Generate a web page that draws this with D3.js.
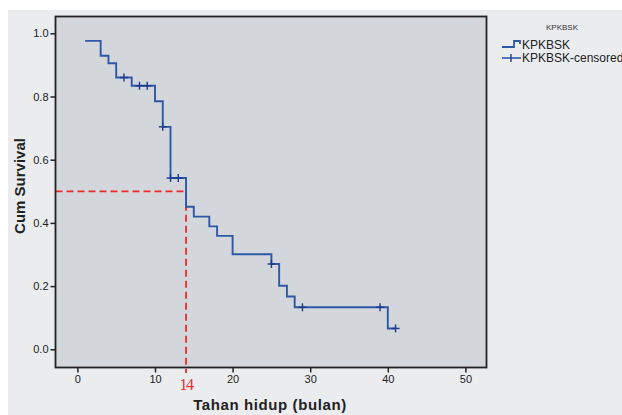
<!DOCTYPE html>
<html>
<head>
<meta charset="utf-8">
<script src="https://cdn.jsdelivr.net/npm/d3@7"></script>
<style>
  body { margin: 0; background: #fff; }
  svg { display: block; font-family: "Liberation Sans", Arial, sans-serif; }
</style>
</head>
<body>
<svg id="chart" width="622" height="415"></svg>
<script>
// KM steps: time of each drop and survival after it
const stepTimes = [1, 3, 4, 5, 7, 10, 11, 12, 14, 15, 17, 18, 20, 25, 26, 27, 28, 40]
const stepSurv = [0.976, 0.929, 0.905, 0.860, 0.834, 0.785, 0.704, 0.542, 0.451, 0.420, 0.389, 0.359, 0.301, 0.270, 0.201, 0.167, 0.133, 0.066]
const lastTime = 41
const censoredTimes = [6, 8, 9, 11, 12, 13, 25, 29, 39, 41]
const xTicks = [0, 10, 20, 30, 40, 50]
const yTicks = [0, 0.2, 0.4, 0.6, 0.8, 1.0]
const medianTime = 14
const medianSurv = 0.5

let svg = d3.select('#chart')

let plot = {left: 55.5, top: 16.5, right: 486.5, bottom: 367.5}

let x = d3.scaleLinear().domain([0, 50]).range([77.4, 465.4])
let y = d3.scaleLinear().domain([0, 1]).range([349.3, 33.3])

// outer panel
svg.append('rect').attr('x', 8).attr('y', 10).attr('width', 614).attr('height', 405).attr('fill', '#ebecee')

// plot area
svg.append('rect')
    .attr('x', plot.left).attr('y', plot.top)
    .attr('width', plot.right - plot.left).attr('height', plot.bottom - plot.top)
    .attr('fill', '#d3d6db')

let survAt = t => {
    let s = stepSurv[0]
    for(let i = 0; i < stepTimes.length; i++){
        if(stepTimes[i] <= t) s = stepSurv[i]
    }
    return s
}

let pts = stepTimes.map((t, i) => ({t: t, s: stepSurv[i]}))
pts.push({t: lastTime, s: stepSurv[stepSurv.length - 1]})

// median reference lines
svg.append('path')
    .attr('d', 'M' + plot.left + ',' + y(medianSurv) + 'H' + x(medianTime) + 'V373')
    .attr('fill', 'none')
    .attr('stroke', '#ee2a2a')
    .attr('stroke-width', 1.8)
    .attr('stroke-dasharray', '7,4')

svg.append('path')
    .datum(pts)
    .attr('d', d3.line().x(d => x(d.t)).y(d => y(d.s)).curve(d3.curveStepAfter))
    .attr('fill', 'none')
    .attr('stroke', '#2d58a8')
    .attr('stroke-width', 1.9)

let cens = svg.append('g').attr('stroke', '#1e3a8c').attr('stroke-width', 1.4)
censoredTimes.forEach(t => {
    let cx = x(t), cy = y(survAt(t))
    cens.append('line').attr('x1', cx - 4).attr('x2', cx + 4).attr('y1', cy).attr('y2', cy)
    cens.append('line').attr('x1', cx).attr('x2', cx).attr('y1', cy - 4).attr('y2', cy + 4)
})

// frame
svg.append('rect')
    .attr('x', plot.left).attr('y', plot.top)
    .attr('width', plot.right - plot.left).attr('height', plot.bottom - plot.top)
    .attr('fill', 'none')
    .attr('stroke', '#222')
    .attr('stroke-width', 1.8)

// axes
let xAxis = svg.append('g')
    .attr('transform', 'translate(0,' + plot.bottom + ')')
    .call(d3.axisBottom(x).tickValues(xTicks).tickSize(5).tickPadding(3).tickFormat(d3.format('d')))
xAxis.select('.domain').remove()
xAxis.selectAll('line').attr('stroke', '#222').attr('stroke-width', 1.5)
xAxis.selectAll('text').attr('font-size', 11).attr('fill', '#222')

let yAxis = svg.append('g')
    .attr('transform', 'translate(' + plot.left + ',0)')
    .call(d3.axisLeft(y).tickValues(yTicks).tickSize(5).tickPadding(2).tickFormat(d3.format('.1f')))
yAxis.select('.domain').remove()
yAxis.selectAll('line').attr('stroke', '#222').attr('stroke-width', 1.5)
yAxis.selectAll('text').attr('font-size', 11).attr('fill', '#222')

// median label
svg.append('text')
    .attr('x', x(medianTime)).attr('y', 390)
    .attr('text-anchor', 'middle')
    .attr('font-family', '"Liberation Serif", "DejaVu Serif", serif')
    .attr('font-size', 16)
    .attr('letter-spacing', -1.5)
    .attr('fill', '#ee2a2a')
    .text(medianTime)

// axis titles
svg.append('text')
    .attr('x', 270).attr('y', 410)
    .attr('text-anchor', 'middle')
    .attr('font-size', 15).attr('font-weight', 'bold').attr('fill', '#222')
    .attr('letter-spacing', 0.6)
    .text('Tahan  hidup (bulan)')

svg.append('text')
    .attr('transform', 'translate(25,186) rotate(-90)')
    .attr('text-anchor', 'middle')
    .attr('font-size', 15).attr('font-weight', 'bold').attr('fill', '#222')
    .text('Cum Survival')

// legend
let lg = svg.append('g')
lg.append('text').attr('x', 562).attr('y', 30).attr('text-anchor', 'middle')
    .attr('font-size', 8).attr('fill', '#333').text('KPKBSK')
lg.append('path').attr('d', 'M502,47H514V41H520V44')
    .attr('fill', 'none').attr('stroke', '#2d58a8').attr('stroke-width', 1.8)
lg.append('text').attr('x', 522).attr('y', 49).attr('font-size', 12).attr('fill', '#222').text('KPKBSK')
lg.append('line').attr('x1', 502).attr('x2', 521).attr('y1', 58).attr('y2', 58)
    .attr('stroke', '#2d58a8').attr('stroke-width', 1.6)
lg.append('line').attr('x1', 511).attr('x2', 511).attr('y1', 54).attr('y2', 62)
    .attr('stroke', '#1e3a8c').attr('stroke-width', 1.4)
lg.append('text').attr('x', 522).attr('y', 62).attr('font-size', 12).attr('fill', '#222').text('KPKBSK-censored')
</script>
</body>
</html>
